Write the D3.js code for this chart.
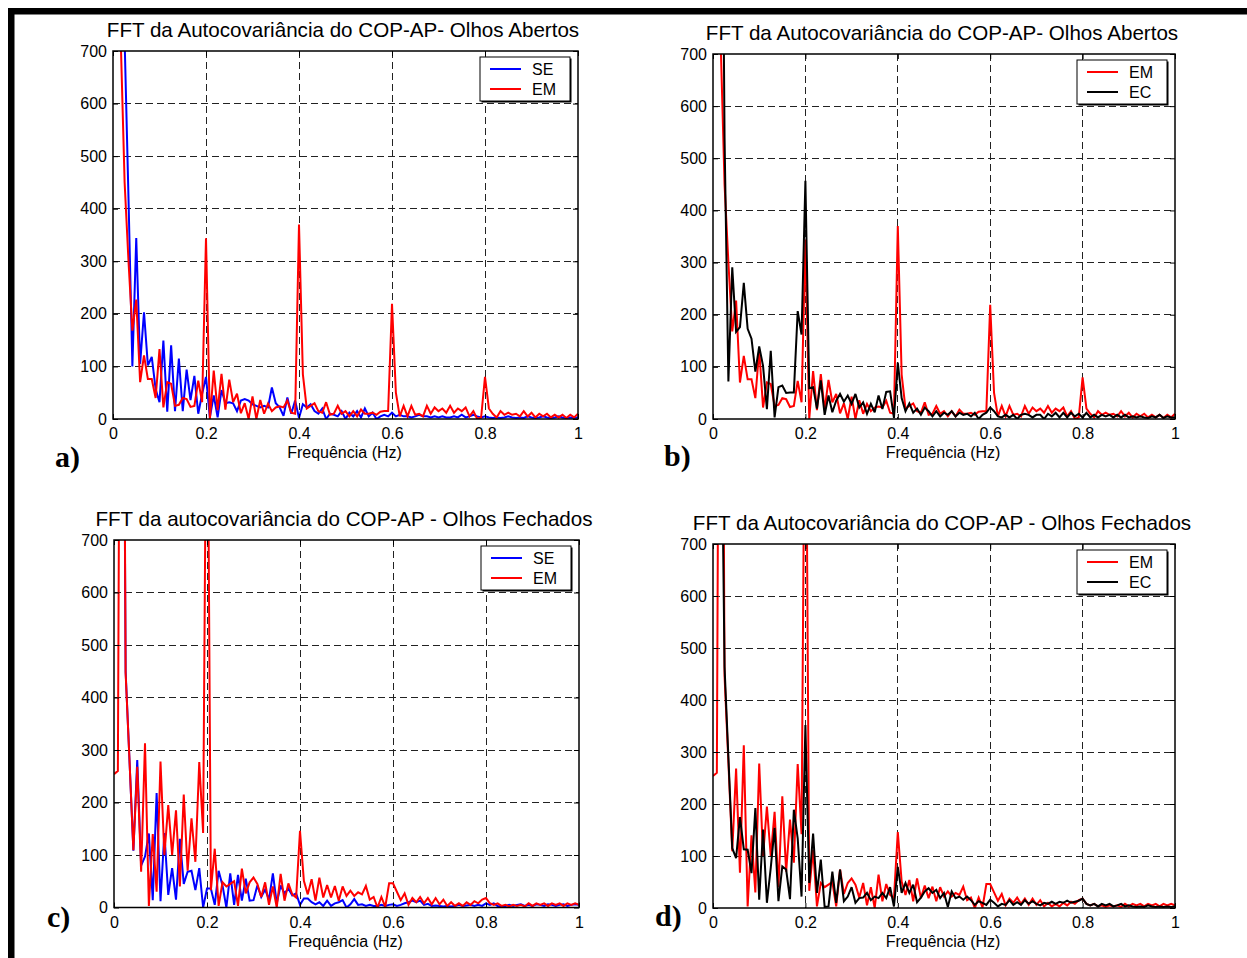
<!DOCTYPE html>
<html><head><meta charset="utf-8">
<script src="https://cdn.jsdelivr.net/npm/d3@7"></script>
<style>
html,body{margin:0;padding:0;background:#fff;}
svg{display:block;}
text{font-family:"Liberation Sans",Arial,Helvetica,sans-serif;fill:#000;}
</style></head><body>
<svg id="chart" width="1247" height="958"></svg>
<script>
// ---------- data ----------
const freqStep = 1 / 120; // Hz between FFT samples
const xTicks = [0, 0.2, 0.4, 0.6, 0.8, 1];
const xTickLabels = ["0", "0.2", "0.4", "0.6", "0.8", "1"];
const yTicks = [0, 100, 200, 300, 400, 500, 600, 700];
const yTickLabels = ["0", "100", "200", "300", "400", "500", "600", "700"];
const titles = [
  "FFT da Autocovariância do COP-AP- Olhos Abertos",
  "FFT da Autocovariância do COP-AP- Olhos Abertos",
  "FFT da autocovariância do COP-AP - Olhos Fechados",
  "FFT da Autocovariância do COP-AP - Olhos Fechados"
];
const xLabel = "Frequência (Hz)";
const panelLetters = ["a)", "b)", "c)", "d)"];

// Olhos Abertos
const seOpen = [
  3000, 2500, 1600, 720, 420, 100, 344, 105, 203, 102,
  118, 57, 32, 149, 14, 140, 15, 115, 15, 94,
  36, 82, 10, 48, 80, 3, 45, 3, 55, 30,
  32, 30, 15, 35, 38, 35, 28, 25, 22, 25,
  22, 60, 30, 22, 6, 41, 10, 35, 2, 28,
  22, 28, 15, 10, 20, 0, 10, 8, 5, 15,
  0, 12, 5, 15, 3, 20, 5, 12, 0, 5,
  8, 5, 12, 5, 8, 5, 5, 3, 5, 8,
  5, 5, 3, 5, 3, 5, 3, 3, 5, 3,
  8, 3, 5, 8, 5, 3, 5, 3, 2, 3,
  2, 3, 5, 3, 2, 3, 2, 5, 3, 2,
  3, 5, 3, 2, 3, 5, 3, 2, 3, 2,
  3
];
const emOpen = [
  1500, 1100, 720, 450, 300, 168, 227, 70, 121, 76,
  76, 40, 133, 22, 70, 67, 25, 27, 40, 38,
  23, 25, 73, 32, 344, 0, 92, 17, 86, 18,
  75, 32, 48, 11, 30, 0, 43, 0, 36, 10,
  29, 15, 22, 24, 22, 35, 12, 10, 370, 85,
  20, 25, 30, 15, 12, 32, 8, 10, 25, 10,
  15, 5, 15, 5, 18, 10, 10, 12, 8, 14,
  15, 15, 219, 50, 5, 25, 5, 25, 8, 10,
  5, 25, 10, 22, 15, 20, 12, 25, 12, 20,
  15, 22, 5, 15, 0, 3, 80, 20, 10, 3,
  15, 8, 12, 8, 10, 5, 15, 5, 12, 3,
  10, 5, 10, 3, 8, 3, 8, 2, 8, 3,
  10
];
const ecOpen = [
  3500, 2800, 1500, 540, 72, 291, 167, 176, 261, 173,
  154, 91, 139, 102, 19, 131, 3, 61, 64, 50,
  51, 51, 207, 162, 457, 59, 61, 20, 74, 8,
  45, 13, 35, 48, 33, 45, 29, 48, 22, 32,
  10, 29, 13, 45, 19, 52, 53, 2, 108, 40,
  15, 30, 12, 20, 8, 22, 15, 5, 15, 5,
  12, 8, 15, 5, 12, 8, 10, 5, 12, 0,
  8, 12, 22, 15, 5, 3, 8, 3, 8, 0,
  8, 10, 8, 3, 8, 8, 0, 10, 5, 12,
  3, 12, 3, 12, 5, 10, 3, 12, 3, 8,
  3, 8, 5, 8, 3, 8, 3, 8, 3, 5,
  3, 5, 3, 2, 5, 3, 8, 2, 5, 3,
  3
];
// Olhos Fechados
const seClosed = [
  3000, 2500, 1800, 450, 280, 108, 281, 80, 97, 141,
  14, 218, 12, 142, 24, 75, 15, 131, 45, 68,
  70, 33, 75, 0, 36, 36, 5, 70, 42, 0,
  65, 5, 62, 13, 55, 13, 14, 42, 20, 34,
  15, 65, 8, 42, 27, 36, 23, 27, 5, 17,
  17, 10, 6, 10, 3, 13, 3, 8, 10, 14,
  0, 6, 16, 5, 6, 3, 5, 3, 3, 5,
  3, 5, 6, 3, 5, 8, 10, 13, 10, 13,
  5, 7, 3, 4, 3, 2, 3, 2, 3, 5,
  3, 4, 5, 3, 5, 3, 8, 5, 8, 3,
  2, 3, 5, 3, 5, 6, 3, 5, 3, 6,
  5, 3, 6, 5, 3, 5, 6, 3, 5, 6,
  5
];
const emClosed = [
  254, 260, 2000, 446, 280, 109, 268, 68, 313, 3,
  140, 30, 278, 100, 195, 100, 185, 40, 215, 70,
  170, 87, 277, 142, 1200, 33, 112, 3, 48, 40,
  45, 50, 3, 74, 27, 48, 57, 45, 20, 48,
  5, 40, 0, 64, 13, 46, 25, 19, 146, 51,
  25, 54, 13, 57, 19, 43, 19, 41, 13, 40,
  22, 32, 22, 29, 25, 41, 15, 20, 0, 20,
  1, 46, 46, 30, 14, 27, 5, 18, 10, 20,
  8, 18, 6, 18, 6, 15, 3, 10, 3, 8,
  3, 10, 5, 12, 8, 15, 18, 8, 5, 8,
  3, 5, 2, 5, 3, 5, 2, 8, 3, 8,
  5, 8, 3, 8, 5, 8, 3, 8, 5, 8,
  5
];
const ecClosed = [
  3000, 2500, 1100, 464, 290, 115, 96, 175, 113, 112,
  67, 192, 16, 151, 10, 77, 154, 13, 80, 74,
  17, 189, 134, 22, 352, 48, 143, 29, 93, 2,
  3, 70, 10, 74, 13, 22, 40, 10, 19, 20,
  29, 15, 22, 19, 29, 19, 40, 3, 79, 29,
  48, 29, 45, 11, 20, 32, 38, 29, 35, 19,
  29, 2, 32, 19, 22, 16, 22, 15, 6, 13,
  10, 6, 16, 10, 3, 8, 6, 15, 6, 11,
  6, 15, 8, 13, 8, 5, 10, 8, 12, 8,
  12, 10, 14, 10, 12, 14, 18, 8, 5, 8,
  3, 8, 5, 8, 3, 5, 8, 3, 5, 3,
  2, 3, 2, 5, 3, 2, 3, 2, 3, 2,
  3
];

const panelSeries = [
  [{ name: "SE", data: seOpen, color: "#0000ff" }, { name: "EM", data: emOpen, color: "#ff0000" }],
  [{ name: "EM", data: emOpen, color: "#ff0000" }, { name: "EC", data: ecOpen, color: "#000000" }],
  [{ name: "SE", data: seClosed, color: "#0000ff" }, { name: "EM", data: emClosed, color: "#ff0000" }],
  [{ name: "EM", data: emClosed, color: "#ff0000" }, { name: "EC", data: ecClosed, color: "#000000" }]
];

// ---------- layout ----------
const layout = [
  { x0: 113, x1: 578, y0: 51, y1: 419, lx: 55, ly: 467, tx: 343 },
  { x0: 713, x1: 1175, y0: 54, y1: 419, lx: 664, ly: 466, tx: 942 },
  { x0: 114, x1: 579, y0: 540, y1: 907.5, lx: 47, ly: 927, tx: 344 },
  { x0: 713, x1: 1175, y0: 544, y1: 908, lx: 655, ly: 926, tx: 942 }
];

const svg = d3.select("#chart");
svg.append("rect").attr("width", 1247).attr("height", 958).attr("fill", "#fff");
// outer page frame
svg.append("rect").attr("x", 8).attr("y", 8).attr("width", 1239).attr("height", 6.5).attr("fill", "#000");
svg.append("rect").attr("x", 8).attr("y", 8).attr("width", 6.5).attr("height", 950).attr("fill", "#000");

const defs = svg.append("defs");

layout.forEach((L, p) => {
  const g = svg.append("g");
  const x = d3.scaleLinear().domain([0, 1]).range([L.x0, L.x1]);
  const y = d3.scaleLinear().domain([0, 700]).range([L.y1, L.y0]);
  const cx = (L.x0 + L.x1) / 2;

  // grid
  const grid = g.append("g").attr("stroke", "#222").attr("stroke-width", 1)
    .attr("stroke-dasharray", "7,4").attr("shape-rendering", "crispEdges");
  xTicks.slice(1, -1).forEach(t => {
    grid.append("line").attr("x1", x(t)).attr("x2", x(t)).attr("y1", L.y0).attr("y2", L.y1);
  });
  yTicks.slice(1, -1).forEach(t => {
    grid.append("line").attr("x1", L.x0).attr("x2", L.x1).attr("y1", y(t)).attr("y2", y(t));
  });

  // data
  const clipId = "clip" + p;
  defs.append("clipPath").attr("id", clipId).append("rect")
    .attr("x", L.x0).attr("y", L.y0).attr("width", L.x1 - L.x0).attr("height", L.y1 - L.y0);
  const line = d3.line().x((d, i) => x(i * freqStep)).y(d => y(d));
  const dg = g.append("g").attr("clip-path", `url(#${clipId})`);
  panelSeries[p].forEach(s => {
    dg.append("path").datum(s.data).attr("d", line)
      .attr("fill", "none").attr("stroke", s.color).attr("stroke-width", 2)
      .attr("stroke-linejoin", "miter").attr("stroke-miterlimit", 3);
  });

  // axes using d3 axes (ticks inward)
  const axB = d3.axisBottom(x).tickValues(xTicks).tickFormat((d, i) => xTickLabels[i]).tickSizeInner(-5).tickSizeOuter(0).tickPadding(9);
  const axL = d3.axisLeft(y).tickValues(yTicks).tickFormat((d, i) => yTickLabels[i]).tickSizeInner(-5).tickSizeOuter(0).tickPadding(6);
  const axT = d3.axisTop(x).tickValues(xTicks).tickFormat("").tickSizeInner(-5).tickSizeOuter(0);
  const axR = d3.axisRight(y).tickValues(yTicks).tickFormat("").tickSizeInner(-5).tickSizeOuter(0);
  const styleAxis = sel => {
    sel.select(".domain").remove();
    sel.selectAll("line").attr("stroke", "#000").attr("stroke-width", 1);
    sel.selectAll("text").attr("font-size", 16).attr("font-family", '"Liberation Sans",Arial,sans-serif').attr("fill", "#000");
  };
  g.append("g").attr("transform", `translate(0,${L.y1})`).call(axB).call(styleAxis);
  g.append("g").attr("transform", `translate(${L.x0},0)`).call(axL).call(styleAxis);
  g.append("g").attr("transform", `translate(0,${L.y0})`).call(axT).call(styleAxis);
  g.append("g").attr("transform", `translate(${L.x1},0)`).call(axR).call(styleAxis);

  // box
  g.append("rect").attr("x", L.x0).attr("y", L.y0).attr("width", L.x1 - L.x0).attr("height", L.y1 - L.y0)
    .attr("fill", "none").attr("stroke", "#000").attr("stroke-width", 1.5);

  // title
  g.append("text").attr("x", L.tx).attr("y", L.y0 - 14).attr("text-anchor", "middle")
    .attr("font-size", 20.6).text(titles[p]);
  // x label
  g.append("text").attr("x", cx - 1).attr("y", L.y1 + 39).attr("text-anchor", "middle")
    .attr("font-size", 16).text(xLabel);
  // panel letter
  g.append("text").attr("x", L.lx).attr("y", L.ly).attr("font-size", 30).attr("font-weight", "bold")
    .style("font-family", '"Liberation Serif","Times New Roman",serif').text(panelLetters[p]);

  // legend
  const bw = 90, bh = 44;
  const bx = L.x1 - 98, by = L.y0 + 6;
  const lg = g.append("g");
  lg.append("rect").attr("x", bx + 1.5).attr("y", by + 1.5).attr("width", bw).attr("height", bh).attr("fill", "#000");
  lg.append("rect").attr("x", bx).attr("y", by).attr("width", bw).attr("height", bh)
    .attr("fill", "#fff").attr("stroke", "#000").attr("stroke-width", 1);
  panelSeries[p].forEach((s, k) => {
    const ly = by + 12 + k * 20;
    lg.append("line").attr("x1", bx + 10).attr("x2", bx + 41).attr("y1", ly).attr("y2", ly)
      .attr("stroke", s.color).attr("stroke-width", 2);
    lg.append("text").attr("x", bx + 52).attr("y", ly + 6).attr("font-size", 16).text(s.name);
  });
});
</script>
</body></html>
